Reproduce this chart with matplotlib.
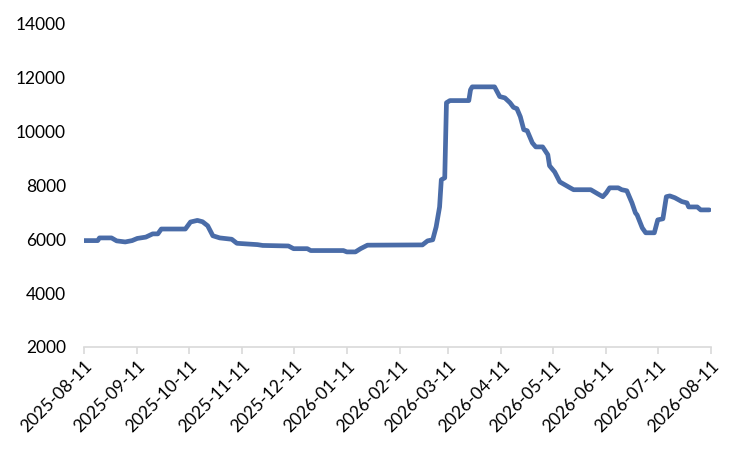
import pandas as pd
import matplotlib
matplotlib.use("Agg")
import matplotlib.pyplot as plt
import matplotlib.dates as mdates

# price series
dates = ["2025-08-11", "2025-08-19", "2025-08-20", "2025-08-27", "2025-08-30", "2025-09-04",
         "2025-09-08", "2025-09-11", "2025-09-16", "2025-09-20", "2025-09-23", "2025-09-25",
         "2025-10-09", "2025-10-12", "2025-10-16", "2025-10-19", "2025-10-22", "2025-10-25",
         "2025-10-29", "2025-11-05", "2025-11-08", "2025-11-20", "2025-11-23", "2025-12-08",
         "2025-12-11", "2025-12-19", "2025-12-21", "2026-01-09", "2026-01-11", "2026-01-16",
         "2026-01-19", "2026-01-23", "2026-02-24", "2026-02-27", "2026-03-02", "2026-03-04",
         "2026-03-06", "2026-03-07", "2026-03-09", "2026-03-10", "2026-03-12", "2026-03-23",
         "2026-03-24", "2026-03-25", "2026-04-07", "2026-04-10", "2026-04-13", "2026-04-16",
         "2026-04-18", "2026-04-20", "2026-04-22", "2026-04-24", "2026-04-26", "2026-04-29",
         "2026-05-01", "2026-05-05", "2026-05-08", "2026-05-09", "2026-05-12", "2026-05-15",
         "2026-05-18", "2026-05-21", "2026-05-23", "2026-06-02", "2026-06-06", "2026-06-09",
         "2026-06-11", "2026-06-13", "2026-06-18", "2026-06-20", "2026-06-23", "2026-06-26",
         "2026-06-28", "2026-06-29", "2026-07-02", "2026-07-04", "2026-07-09", "2026-07-11",
         "2026-07-14", "2026-07-16", "2026-07-18", "2026-07-21", "2026-07-25", "2026-07-28",
         "2026-07-29", "2026-08-03", "2026-08-05", "2026-08-10"]
values = [5950, 5950, 6050, 6050, 5940, 5900,
          5950, 6030, 6080, 6200, 6200, 6380,
          6380, 6640, 6700, 6650, 6500, 6130,
          6050, 6000, 5850, 5800, 5770, 5750,
          5650, 5650, 5580, 5580, 5530, 5530,
          5650, 5780, 5790, 5940, 5980, 6460,
          7200, 8210, 8280, 11070, 11150, 11150,
          11550, 11660, 11660, 11300, 11250, 11070,
          10900, 10850, 10550, 10070, 10030, 9580,
          9430, 9430, 9140, 8730, 8500, 8130,
          8020, 7910, 7840, 7840, 7690, 7580,
          7720, 7910, 7910, 7840, 7800, 7350,
          6980, 6900, 6420, 6240, 6240, 6720,
          6760, 7580, 7610, 7540, 7400, 7350,
          7200, 7200, 7090, 7090]

tick_dates = ["2025-08-11", "2025-09-11", "2025-10-11", "2025-11-11", "2025-12-11",
              "2026-01-11", "2026-02-11", "2026-03-11", "2026-04-11", "2026-05-11",
              "2026-06-11", "2026-07-11", "2026-08-11"]

plt.rcParams['font.family'] = ['Lato', 'DejaVu Sans']

x = pd.to_datetime(dates)
ticks = pd.to_datetime(tick_dates)

fig = plt.figure(figsize=(7.5, 4.5), dpi=100)
ax = fig.add_axes([0.112, 0.229, 0.836, 0.718])

ax.plot(x, values, color="#4a6ca8", linewidth=3.4, solid_joinstyle="round", solid_capstyle="round")

ax.set_ylim(2000, 14000)
ax.set_yticks(range(2000, 14001, 2000))
ax.set_xlim(ticks[0], ticks[-1])
ax.set_xticks(ticks)
ax.xaxis.set_major_formatter(mdates.DateFormatter("%Y-%m-%d"))
plt.setp(ax.get_xticklabels(), rotation=45, ha="right", rotation_mode="anchor")

for s in ["top", "right", "left"]:
    ax.spines[s].set_visible(False)
ax.spines["bottom"].set_color("#d9d9d9")
ax.spines["bottom"].set_linewidth(1.2)
ax.tick_params(axis="y", length=0, pad=13, labelsize=12.5)
ax.tick_params(axis="x", length=5, color="#d9d9d9", width=1.2, labelsize=12.5, pad=3)

fig.savefig("out.png", dpi=100)
